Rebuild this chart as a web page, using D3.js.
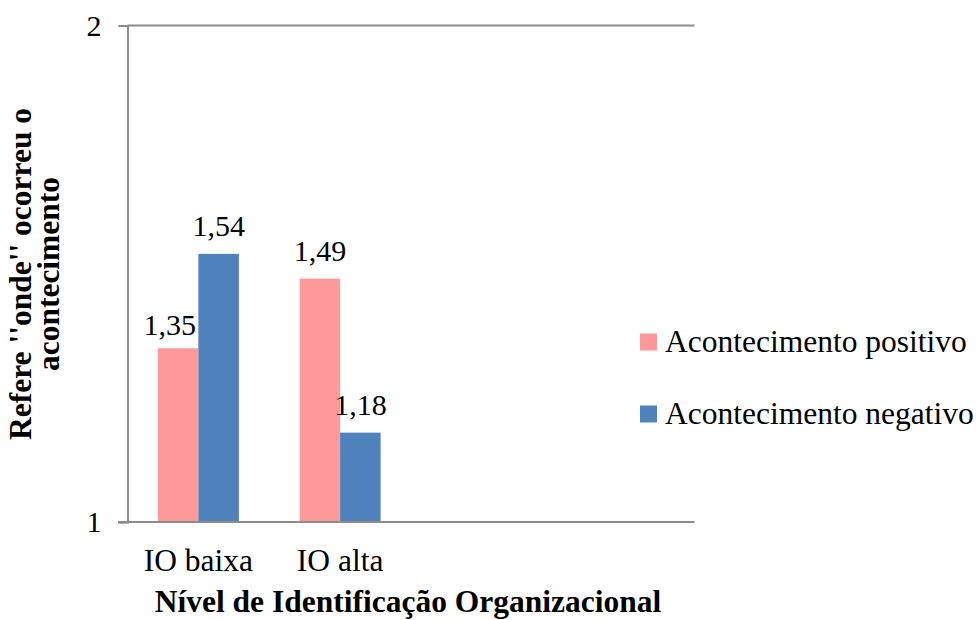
<!DOCTYPE html>
<html><head><meta charset="utf-8">
<script src="https://cdn.jsdelivr.net/npm/d3@7"></script>
<style>body{margin:0;background:#fff}svg{display:block}text{font-family:"Liberation Serif","Times New Roman",serif;fill:#000}</style>
</head><body>
<svg id="c" width="979" height="620"></svg>
<script>
const categories = ["IO baixa", "IO alta", "", ""];
const seriesNames = ["Acontecimento positivo", "Acontecimento negativo"];
const positivo = [1.35, 1.49];
const negativo = [1.54, 1.18];
const labelsPositivo = ["1,35", "1,49"];
const labelsNegativo = ["1,54", "1,18"];
const yTicks = [1, 2];
const colors = ["#FF9999", "#4F81BD"];

const svg = d3.select("#c");
const fs = 31.5;
const fsNum = 30;
const x = d3.scaleBand().domain(d3.range(categories.length)).range([127.5, 694.5]).paddingInner(0).paddingOuter(0);
const xs = d3.scaleBand().domain([0, 1]).range([0, x.bandwidth()]).paddingInner(0).paddingOuter(0.75);
const y = d3.scaleLinear().domain([1, 2]).range([522, 25.5]);
const axisColor = "#8C8C8C";

// gridline at top
svg.append("g").selectAll("line").data(yTicks.filter(t => t !== 1)).join("line")
  .attr("x1", 127.5).attr("x2", 694.5).attr("y1", d => y(d)).attr("y2", d => y(d))
  .attr("stroke", axisColor).attr("stroke-width", 2);

const series = [positivo, negativo];
const labels = [labelsPositivo, labelsNegativo];
series.forEach((vals, s) => {
  const g = svg.append("g");
  g.selectAll("rect").data(vals).join("rect")
    .attr("x", (d, i) => x(i) + xs(s)).attr("width", xs.bandwidth())
    .attr("y", d => y(d)).attr("height", d => y(1) - y(d))
    .attr("fill", colors[s]);
  g.selectAll("text").data(vals).join("text")
    .attr("x", (d, i) => x(i) + xs(s) + xs.bandwidth() / 2)
    .attr("y", d => y(d) - 18)
    .attr("text-anchor", "middle").attr("font-size", fsNum)
    .text((d, i) => labels[s][i])
    .each(function (d, i) {
      // nudge a label that would run into the taller neighbouring bar
      if (s === 0 && series[1][i] > d) {
        const w = this.getComputedTextLength();
        const edge = x(i) + xs(1) - 2.5;
        const cx = x(i) + xs(s) + xs.bandwidth() / 2;
        if (cx + w / 2 > edge) {
          d3.select(this).attr("x", edge - w / 2).attr("y", y(d) - 13);
        }
      }
    });
});

// y axis
const yAxis = d3.axisLeft(y).tickValues(yTicks).tickSize(9).tickPadding(17).tickFormat(d3.format("d"));
const gy = svg.append("g").attr("transform", "translate(127.5,0)").call(yAxis);
gy.select(".domain").attr("stroke", axisColor).attr("stroke-width", 2);
gy.selectAll(".tick line").attr("stroke", axisColor).attr("stroke-width", 2);
gy.selectAll(".tick text").attr("font-size", fsNum).attr("font-family", "Liberation Serif").attr("fill", "#000");

// x axis
const xAxis = d3.axisBottom(x).tickSize(0).tickPadding(0).tickFormat(i => categories[i]);
const gx = svg.append("g").attr("transform", "translate(0,522)").call(xAxis);
gx.select(".domain").attr("stroke", axisColor).attr("stroke-width", 2).attr("d", "M118,0H694.5");
gx.selectAll(".tick text").attr("font-size", fs).attr("font-family", "Liberation Serif").attr("fill", "#000")
  .attr("dy", null).attr("y", 49);

// axis titles
svg.append("text").attr("x", 408).attr("y", 612).attr("text-anchor", "middle")
  .attr("font-size", fs).attr("font-weight", "bold").text("Nível de Identificação Organizacional");
const yt = svg.append("text").attr("transform", "translate(0,274) rotate(-90)").attr("text-anchor", "middle")
  .attr("font-size", fs).attr("font-weight", "bold");
yt.append("tspan").attr("x", 0).attr("y", 31).text("Refere ''onde'' ocorreu o");
yt.append("tspan").attr("x", 0).attr("y", 59).text("acontecimento");

// legend
const lg = svg.append("g");
const ly = [342, 414];
seriesNames.forEach((n, i) => {
  lg.append("rect").attr("x", 640).attr("y", ly[i] - 8.5).attr("width", 17).attr("height", 17).attr("fill", colors[i]);
  lg.append("text").attr("x", 665).attr("y", ly[i] + 10).attr("font-size", fs).text(n);
});
</script>
</body></html>
